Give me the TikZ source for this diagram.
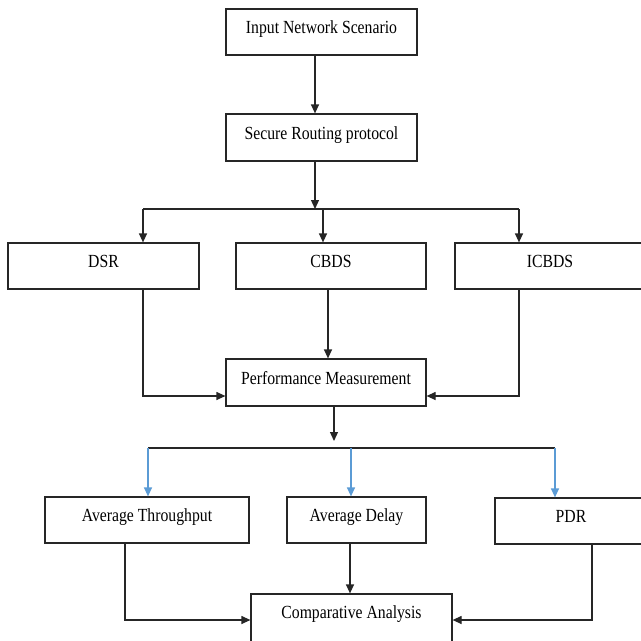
\documentclass[tikz,border=0pt]{standalone}
\usepackage{fontspec}
\setmainfont[FakeStretch=0.85]{Liberation Serif}
\usetikzlibrary{arrows.meta}
\definecolor{linkblue}{RGB}{91,155,213}

\begin{document}
\begin{tikzpicture}[x=1pt,y=-1pt]
    \tikzstyle{link}  = [line width=1.2pt,draw=black!85]
    \tikzstyle{edge}  = [line width=1.2pt,draw=black!85,-{Triangle[length=9pt,width=8pt]}]
    \tikzstyle{bedge} = [line width=1.2pt,draw=linkblue,-{Triangle[length=9pt,width=8pt]}]
    \tikzstyle{block}=[
      rectangle,
      draw=black!85,
      line width=1.2pt,
      inner sep=0pt,
      text height=12pt,
      text depth=9pt,
      font=\fontsize{18.5}{22}\selectfont
    ]

    \useasboundingbox (0,0) rectangle (641,641);
    \clip (0,0) rectangle (641,641);

    \node[block,minimum width=191pt,minimum height=46pt] (input)  at (321.5,32)  {Input Network Scenario};
    \node[block,minimum width=191pt,minimum height=47pt] (secure) at (321.5,137.5) {Secure Routing protocol};
    \node[block,minimum width=191pt,minimum height=46pt] (dsr)    at (103.5,266) {DSR};
    \node[block,minimum width=190pt,minimum height=46pt] (cbds)   at (331,266)   {CBDS};
    \node[block,minimum width=190pt,minimum height=46pt] (icbds)  at (550,266)   {ICBDS};
    \node[block,minimum width=200pt,minimum height=47pt] (perf)   at (326,382.5) {Performance Measurement};
    \node[block,minimum width=204pt,minimum height=46pt] (thr)    at (147,520)   {Average Throughput};
    \node[block,minimum width=139pt,minimum height=46pt] (delay)  at (356.5,520) {Average Delay};
    \node[block,minimum width=152pt,minimum height=46pt] (pdr)    at (571,521)   {PDR};
    \node[block,minimum width=201pt,minimum height=52pt,text depth=15pt] (comp) at (351.5,620) {Comparative Analysis};

    \coordinate (split)     at (315,209);
    \coordinate (bar left)  at (143,209);
    \coordinate (bar mid)   at (323,209);
    \coordinate (bar right) at (519,209);
    \coordinate (perf out)   at (334,441);
    \coordinate (bar2 left)  at (148,448);
    \coordinate (bar2 mid)   at (351,448);
    \coordinate (bar2 right) at (555,448);

    \draw[edge] (input.south -| split)--(secure.north -| split);
    \draw[edge] (secure.south -| split)--(split);
    \draw[link] (bar left)--(bar right);
    \draw[edge] (bar left)--(dsr.north -| bar left);
    \draw[edge] (bar mid)--(cbds.north -| bar mid);
    \draw[edge] (bar right)--(icbds.north -| bar right);

    \draw[edge] (dsr.south -| bar left) |- ([yshift=-13.5pt]perf.west);
    \draw[edge] ([xshift=-3pt]cbds.south)--([xshift=-3pt]cbds.south |- perf.north);
    \draw[edge] (icbds.south -| bar right) |- ([yshift=-13.5pt]perf.east);

    \draw[edge] (perf.south -| perf out)--(perf out);
    \draw[link] (bar2 left)--(bar2 right);
    \draw[bedge] (bar2 left)--(thr.north -| bar2 left);
    \draw[bedge] (bar2 mid)--(delay.north -| bar2 mid);
    \draw[bedge] (bar2 right)--(pdr.north -| bar2 right);

    \draw[edge] ([xshift=-22pt]thr.south) |- (comp.west);
    \draw[edge] ([xshift=-6.5pt]delay.south)--([xshift=-6.5pt]delay.south |- comp.north);
    \draw[edge] ([xshift=21pt]pdr.south) |- (comp.east);
\end{tikzpicture}
\end{document}
